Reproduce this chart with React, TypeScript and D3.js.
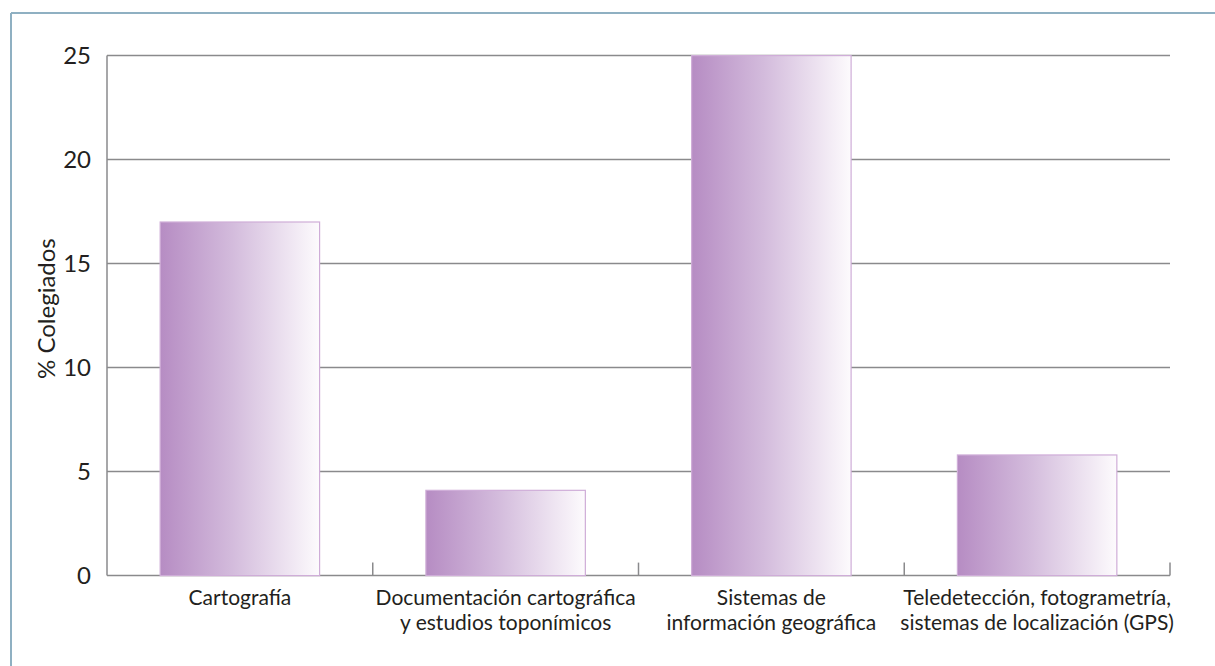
import React from "react";
import * as d3 from "d3";

const categories: string[][] = [
  ["Cartografía"],
  ["Documentación cartográfica", "y estudios toponímicos"],
  ["Sistemas de", "información geográfica"],
  ["Teledetección, fotogrametría,", "sistemas de localización (GPS)"],
];
const values: number[] = [17, 4.1, 25, 5.8];
const yTicks: number[] = [0, 5, 10, 15, 20, 25];
const yTitle = "% Colegiados";

const W = 1215;
const H = 666;
const left = 107;
const right = 1170;
const top = 55.6;
const bottom = 575.6;
const FONT = "Lato, 'Open Sans', 'Liberation Sans', sans-serif";

export default function App() {
  const x = d3
    .scaleBand<number>()
    .domain(d3.range(values.length))
    .range([left, right])
    .paddingInner(0.4)
    .paddingOuter(0.2);
  const y = d3.scaleLinear().domain([0, 25]).range([bottom, top]);
  const step = x.step();
  const boundaries = d3.range(values.length + 1).map((i) => left + i * step);

  return (
    <svg
      width={W}
      height={H}
      style={{ position: "absolute", left: 0, top: 0, background: "#fff" }}
    >
      <defs>
        <linearGradient id="barGrad" x1="0" y1="0" x2="1" y2="0">
          <stop offset="0%" stopColor="#b68cc3" />
          <stop offset="45%" stopColor="#d3bbdc" />
          <stop offset="100%" stopColor="#fdfbfd" />
        </linearGradient>
      </defs>
      {/* frame */}
      <line x1={11} y1={13} x2={W} y2={13} stroke="#8fb0c2" strokeWidth={2} />
      <line x1={11} y1={13} x2={11} y2={H} stroke="#8fb0c2" strokeWidth={2} />

      {/* gridlines */}
      {yTicks.map((t) => (
        <line
          key={"g" + t}
          x1={left}
          x2={right}
          y1={y(t)}
          y2={y(t)}
          stroke="#8a8a8c"
          strokeWidth={1.5}
        />
      ))}
      {/* y axis */}
      <line x1={left} x2={left} y1={top} y2={bottom} stroke="#8a8a8c" strokeWidth={1.5} />
      {/* x ticks */}
      {boundaries.slice(1).map((b, i) => (
        <line key={"xt" + i} x1={b} x2={b} y1={bottom} y2={bottom - 13} stroke="#8a8a8c" strokeWidth={1.5} />
      ))}

      {/* bars */}
      {values.map((v, i) => (
        <rect
          key={"b" + i}
          x={x(i)}
          y={y(v)}
          width={x.bandwidth()}
          height={bottom - y(v)}
          fill="url(#barGrad)"
          stroke="#cfadd8"
          strokeWidth={1.2}
        />
      ))}

      {/* y tick labels */}
      {yTicks.map((t) => (
        <text
          key={"yl" + t}
          x={91}
          y={y(t) + 8}
          textAnchor="end"
          fontFamily={FONT}
          fontSize={24}
          fill="#231f20"
        >
          {t}
        </text>
      ))}

      {/* y title */}
      <text
        transform={`translate(55,${(top + bottom) / 2 - 7}) rotate(-90)`}
        textAnchor="middle"
        fontFamily={FONT}
        fontSize={24}
        fill="#231f20"
      >
        {yTitle}
      </text>

      {/* x labels */}
      {categories.map((lines, i) =>
        lines.map((ln, j) => (
          <text
            key={"xl" + i + "-" + j}
            x={(x(i) as number) + x.bandwidth() / 2}
            y={605 + j * 25}
            textAnchor="middle"
            fontFamily={FONT}
            fontSize={21}
            fill="#231f20"
          >
            {ln}
          </text>
        ))
      )}
    </svg>
  );
}
